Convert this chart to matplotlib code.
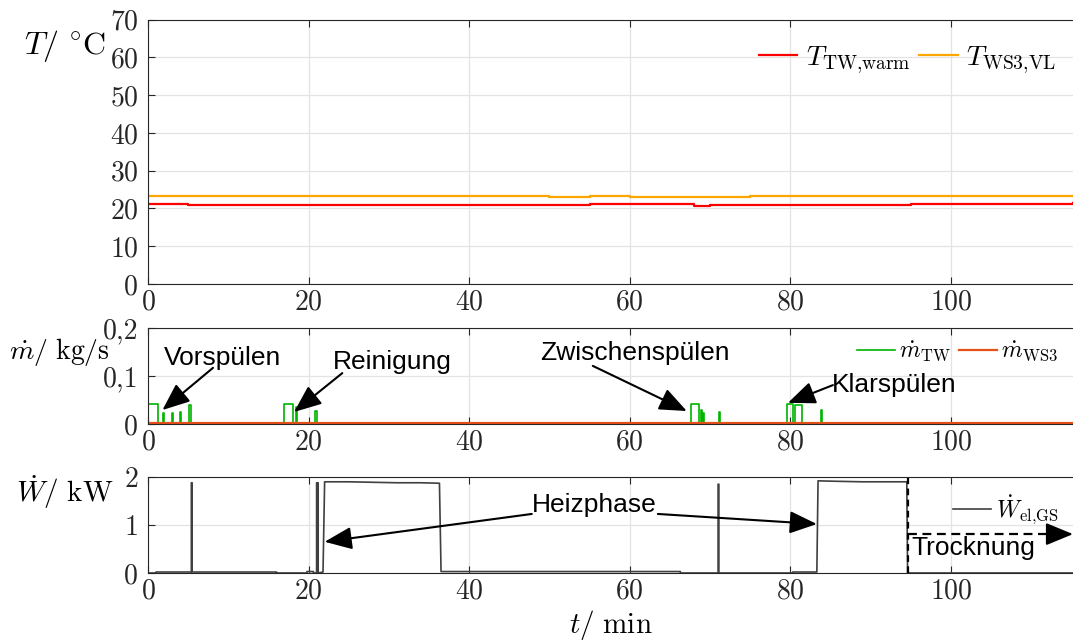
import matplotlib
matplotlib.use("Agg")
from matplotlib import pyplot as plt

plt.rcParams["font.family"] = "serif"
plt.rcParams["font.serif"] = ["cmr10", "DejaVu Serif"]
plt.rcParams["mathtext.fontset"] = "cm"
plt.rcParams["axes.formatter.use_mathtext"] = True

XMAX = 115.2

# temperatures (every 5 min)
t_temp = [0, 5, 10, 15, 20, 25, 30, 35, 40, 45, 50, 55, 60, 63, 66, 68, 70,
          75, 80, 85, 90, 95, 100, 105, 110, 115.2]
T_tw_warm = [21.1, 21.0, 21.0, 21.0, 20.9, 20.9, 20.9, 21.0, 21.0, 21.0,
             21.0, 21.1, 21.2, 21.2, 21.1, 20.7, 20.8, 20.9, 20.9, 20.9,
             20.9, 21.1, 21.2, 21.2, 21.3, 21.4]
T_ws3_vl = [23.2, 23.2, 23.2, 23.2, 23.2, 23.2, 23.2, 23.2, 23.2, 23.2,
            23.1, 23.2, 23.1, 23.1, 23.1, 23.0, 23.1, 23.2, 23.2, 23.2,
            23.2, 23.2, 23.2, 23.2, 23.3, 23.3]

# mass flow pulses of m_TW: (start, end, height) in min / kg/s
pulses_tw = [(0.0, 1.3, 0.042), (1.9, 2.05, 0.022), (3.0, 3.15, 0.022),
             (4.0, 4.15, 0.025), (5.15, 5.3, 0.040),
             (17.0, 18.1, 0.042), (18.45, 18.6, 0.036), (20.85, 21.0, 0.028),
             (67.6, 68.6, 0.042), (68.85, 69.0, 0.030), (69.15, 69.3, 0.023),
             (71.1, 71.25, 0.025),
             (79.6, 80.3, 0.041), (80.6, 81.5, 0.040), (83.85, 84.0, 0.030)]
m_ws3_level = 0.001

# electrical power of dishwasher
t_w = [0, 1.0, 1.0, 5.4, 5.4, 5.5, 5.5, 16.0, 16.0, 19.8, 19.8, 20.6, 20.6,
       21.0, 21.0, 21.2, 21.2, 21.8, 22.0, 25, 28, 31, 34, 36.3, 36.5,
       66.3, 66.3, 71.0, 71.0, 71.1, 71.1, 80.3, 80.3, 83.3, 83.45, 86, 89,
       92, 94.5, 94.6, XMAX]
W_el = [0.0, 0.0, 0.02, 0.02, 1.88, 1.88, 0.02, 0.02, 0.0, 0.0, 0.03, 0.03,
        0.0, 0.0, 1.88, 1.88, 0.0, 0.02, 1.9, 1.9, 1.89, 1.88, 1.88, 1.87,
        0.03, 0.03, 0.0, 0.0, 1.85, 1.85, 0.0, 0.0, 0.02, 0.02, 1.92, 1.91,
        1.9, 1.9, 1.9, 0.0, 0.0]

t_trocknung = 94.6

t_m = [0.0]
m_tw = [0.0]
for a, b, h in pulses_tw:
    t_m += [a, a, b, b]
    m_tw += [0.0, h, h, 0.0]
t_m.append(XMAX)
m_tw.append(0.0)

fig = plt.figure(figsize=(10.73, 6.42), dpi=100)
left, width = 0.1379, 0.8621
ax1 = fig.add_axes([left, 0.5576, width, 0.412])
ax2 = fig.add_axes([left, 0.3396, width, 0.1495])
ax3 = fig.add_axes([left, 0.1075, width, 0.1495])

tick_fs = 20
for ax in (ax1, ax2, ax3):
    ax.set_xlim(0, XMAX)
    ax.set_xticks([0, 20, 40, 60, 80, 100])
    ax.grid(True, color="#e3e3e3", linewidth=0.9)
    ax.set_axisbelow(True)
    ax.tick_params(direction="in", top=True, length=5, width=0.8,
                   labelsize=tick_fs, colors="#262626", pad=4)
    ax.tick_params(axis="y", pad=7)
    ax.spines["right"].set_visible(False)
    for s in ("left", "top", "bottom"):
        ax.spines[s].set_color("#262626")
        ax.spines[s].set_linewidth(0.8)

# temperatures
ax1.plot(t_temp, T_tw_warm, color="#ff0000", lw=1.6, drawstyle="steps-post",
         label=r"$T_{\mathrm{TW{,}warm}}$")
ax1.plot(t_temp, T_ws3_vl, color="#ffa500", lw=1.6, drawstyle="steps-post",
         label=r"$T_{\mathrm{WS3{,}VL}}$")
ax1.set_ylim(0, 70)
ax1.set_yticks(range(0, 71, 10))
ax1.legend(loc="upper right", ncol=2, frameon=False, fontsize=20,
           handlelength=1.4, handletextpad=0.3, columnspacing=0.3,
           bbox_to_anchor=(1.0, 0.97), borderaxespad=0.2)

# mass flows
ax2.plot(t_m, m_tw, color="#00b400", lw=1.2, label=r"$\dot{m}_{\mathrm{TW}}$")
ax2.plot([0, XMAX], [m_ws3_level, m_ws3_level], color="#e8501a", lw=1.6,
         label=r"$\dot{m}_{\mathrm{WS3}}$")
ax2.set_ylim(0, 0.2)
ax2.set_yticks([0, 0.1, 0.2])
ax2.set_yticklabels(["0", "0,1", "0,2"])
ax2.legend(loc="upper right", ncol=2, frameon=False, fontsize=17,
           handlelength=1.6, handletextpad=0.2, columnspacing=0.3,
           bbox_to_anchor=(1.0, 1.02), borderaxespad=0.2)

# power
ax3.plot(t_w, W_el, color="#404040", lw=1.2,
         label=r"$\dot{W}_{\mathrm{el{,}GS}}$")
ax3.set_ylim(0, 2)
ax3.set_yticks([0, 1, 2])
ax3.legend(loc="upper right", frameon=False, fontsize=17,
           handlelength=1.6, handletextpad=0.2,
           bbox_to_anchor=(1.0, 0.98), borderaxespad=0.2)

# labels
fig.text(0.022, 0.928, r"$T/\ \mathrm{^{\circ}C}$", fontsize=23, va="center")
fig.text(0.008, 0.452, r"$\dot{m}/\ \mathrm{kg/s}$", fontsize=20, va="center")
fig.text(0.015, 0.233, r"$\dot{W}/\ \mathrm{kW}$", fontsize=21, va="center")
fig.text(0.569, 0.027, r"$t/\ \mathrm{min}$", fontsize=21, ha="center",
         va="center")

# annotations
afont = dict(family="Liberation Sans", fontsize=19, color="k")
arrow = dict(arrowstyle="-|>,head_length=0.8,head_width=0.33", color="k",
             lw=1.5, mutation_scale=21, shrinkA=0, shrinkB=0)

ax2.text(9.3, 0.1375, "Vorspülen", ha="center", va="center", **afont)
ax2.annotate("", xy=(1.8, 0.029), xytext=(8.1, 0.117), arrowprops=arrow)
ax2.text(30.4, 0.129, "Reinigung", ha="center", va="center", **afont)
ax2.annotate("", xy=(18.2, 0.025), xytext=(24.2, 0.106), arrowprops=arrow)
ax2.text(60.6, 0.148, "Zwischenspülen", ha="center", va="center", **afont)
ax2.annotate("", xy=(67.1, 0.027), xytext=(55.4, 0.121), arrowprops=arrow)
ax2.text(92.9, 0.081, "Klarspülen", ha="center", va="center", **afont)
ax2.annotate("", xy=(79.7, 0.044), xytext=(85.3, 0.081), arrowprops=arrow)

ax3.text(55.6, 1.42, "Heizphase", ha="center", va="center", **afont)
ax3.annotate("", xy=(22.0, 0.65), xytext=(47.8, 1.23), arrowprops=arrow)
ax3.annotate("", xy=(83.3, 1.02), xytext=(63.5, 1.23), arrowprops=arrow)

ax3.plot([t_trocknung, t_trocknung], [0, 2], color="k", lw=1.6,
         linestyle=(0, (3, 2)), clip_on=False)
ax3.plot([t_trocknung, 113.0], [0.81, 0.81], color="k", lw=1.6,
         linestyle=(0, (4, 2.5)))
ax3.annotate("", xy=(XMAX, 0.81), xytext=(112.5, 0.81), arrowprops=arrow,
             annotation_clip=False)
ax3.text(95.1, 0.52, "Trocknung", ha="left", va="center", **afont)

fig.savefig("out.png", dpi=100)
